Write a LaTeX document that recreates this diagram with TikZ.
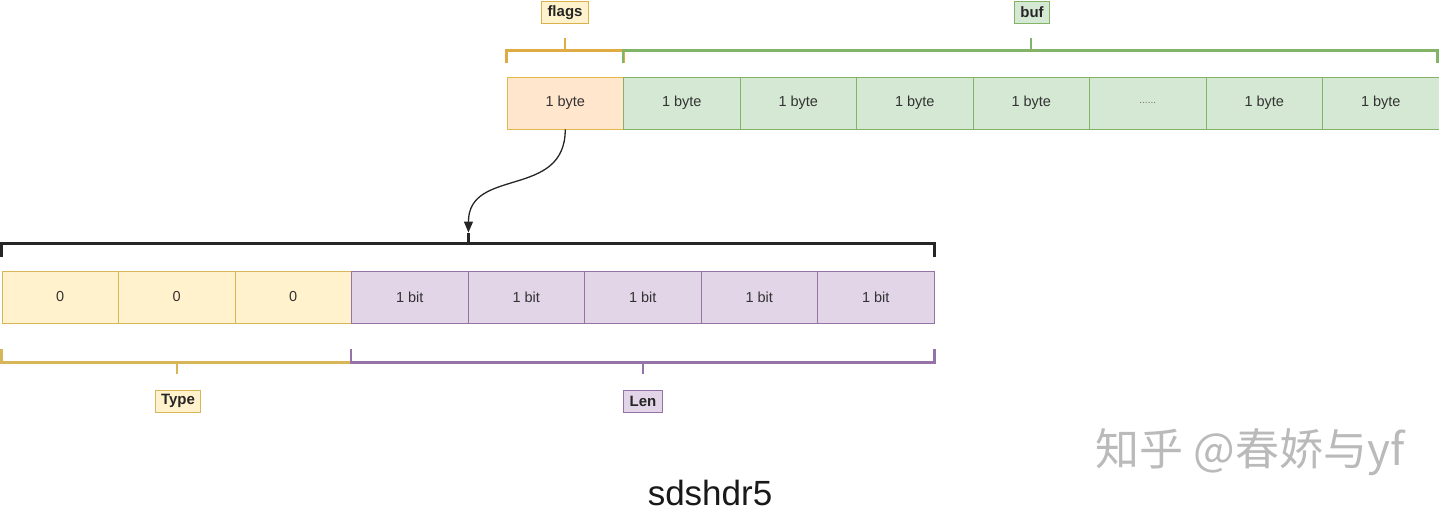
\documentclass[tikz,border=0pt]{standalone}
\usepackage{fontspec}
\setmainfont{Liberation Sans}
\newfontfamily\cjkfont{Noto Sans CJK SC}
\usetikzlibrary{arrows.meta}

\definecolor{orangefill}{HTML}{FFE6CC}
\definecolor{orangeline}{HTML}{D79B00}
\definecolor{greenfill}{HTML}{D5E8D4}
\definecolor{greenline}{HTML}{82B366}
\definecolor{yellowfill}{HTML}{FFF2CC}
\definecolor{yellowline}{HTML}{D6B656}
\definecolor{purplefill}{HTML}{E1D5E7}
\definecolor{purpleline}{HTML}{9673A6}
\definecolor{darktext}{HTML}{333333}

\tikzset{
  cell/.style={draw, line width=0.9pt, minimum width=116.5pt, minimum height=52pt,
    inner sep=0pt, text=darktext, font=\fontsize{14.5}{16}\selectfont},
  flagcell/.style={cell, fill=orangefill, draw=orangeline!70},
  bytecell/.style={cell, fill=greenfill, draw=greenline},
  typecell/.style={cell, fill=yellowfill, draw=yellowline},
  bitcell/.style={cell, fill=purplefill, draw=purpleline},
  tag/.style={draw, line width=1pt, inner xsep=6pt, inner ysep=3pt, minimum height=22pt,
    text=black!85, font=\fontsize{15}{17}\selectfont\bfseries},
  brace/.style={line width=2.2pt}
}

\begin{document}
\begin{tikzpicture}[x=1pt,y=-1pt]

	\useasboundingbox (0,0) rectangle (1439,516);

	% top row: flags + buf
	\node[flagcell] (flags) at (565.25,103) {1 byte};
	\foreach \i/\t in {1/1 byte,2/1 byte,3/1 byte,4/1 byte,6/1 byte,7/1 byte}
		\node[bytecell] (buf\i) at ({565.25+116.5*\i},103) {\t};
	\node[bytecell, text=darktext!70, font=\fontsize{10}{12}\selectfont] (buf5) at ({565.25+116.5*5},103) {......};

	% labels over the top row
	\node[tag, fill=yellowfill, draw=yellowline!90!orange] (flagstag) at (565,12.5) {flags};
	\node[tag, fill=greenfill, draw=greenline] (buftag) at (1032,12.5) {buf};

	% braces over the top row
	\draw[brace, yellowline!80!orange] ([yshift=14pt]flags.north west) -- ([yshift=26pt]flags.north west)
		-- ([yshift=26pt]flags.north east) -- ([yshift=14pt]flags.north east);
	\draw[brace, yellowline!80!orange] ([yshift=26pt]flags.north) -- ++(0,-13);
	\draw[brace, greenline] ([yshift=14pt]buf1.north west) -- ([yshift=26pt]buf1.north west)
		-- ([yshift=26pt,xshift=-2pt]buf7.north east) -- ([yshift=14pt,xshift=-2pt]buf7.north east);
	\draw[brace, greenline] ([yshift=26pt]buf4.north) -- ++(0,-13);

	% bottom row: 3 type bits + 5 len bits
	\foreach \i in {1,2,3}
		\node[typecell] (bit\i) at ({2+116.5*\i-58.25},297) {0};
	\foreach \i in {4,...,8}
		\node[bitcell] (bit\i) at ({2+116.5*\i-58.25},297) {1 bit};

	% black brace over the bits
	\draw[brace, black!85] ([yshift=14pt]bit1.north west) -- ([yshift=27pt]bit1.north west)
		-- ([yshift=27pt]bit8.north east) -- ([yshift=14pt]bit8.north east);
	\draw[brace, black!85] ([yshift=27pt]bit4.north east) -- ++(0,-11) coordinate (bitstop);

	% flags byte expands into the bits
	\draw[line width=1.3pt, black!85, -{Triangle[length=11pt,width=9pt]}]
		(flags.south) .. controls +(0,70) and +(0,-66) .. (bitstop);

	% braces under the bits
	\draw[brace, yellowline] ([yshift=-26pt]bit1.south west) -- ([yshift=-39pt]bit1.south west)
		-- ([yshift=-39pt]bit3.south east);
	\draw[brace, yellowline] ([yshift=-39pt]bit2.south) -- ++(0,12);
	\draw[brace, purpleline] ([yshift=-26pt]bit4.south west) -- ([yshift=-39pt]bit4.south west)
		-- ([yshift=-39pt]bit8.south east) -- ([yshift=-26pt]bit8.south east);
	\draw[brace, purpleline] ([yshift=-39pt]bit6.south) -- ++(0,12);

	\node[tag, fill=yellowfill, draw=yellowline] (typetag) at (178,401) {Type};
	\node[tag, fill=purplefill, draw=purpleline] (lentag) at (643,401) {Len};

	% caption and watermark
	\node[font=\fontsize{35}{40}\selectfont, text=black!90] (title) at (710,493) {sdshdr5};
	\node[font=\cjkfont\fontsize{44}{48}\selectfont, text=black!27] (mark) at (1250,452) {知乎 @春娇与yf};

\end{tikzpicture}
\end{document}
